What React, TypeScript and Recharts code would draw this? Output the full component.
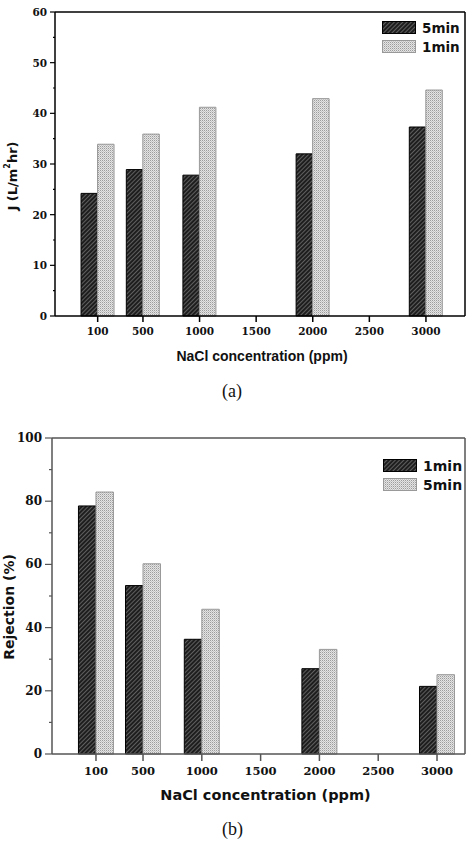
import React from 'react';
import { BarChart, Bar, XAxis, YAxis, Legend, ReferenceLine, Label } from 'recharts';

// NaCl concentrations (ppm) that have bars
const concentrations = [100, 500, 1000, 2000, 3000];
const xTicks = [100, 500, 1000, 1500, 2000, 2500, 3000];

// (a) permeate flux J (L/m2 hr)
const flux5min = [24.2, 28.9, 27.8, 32.0, 37.3];
const flux1min = [33.9, 35.9, 41.2, 42.9, 44.6];
const fluxTicks = [0, 5, 10, 15, 20, 25, 30, 35, 40, 45, 50, 55, 60];

// (b) salt rejection (%)
const rej1min = [78.5, 53.3, 36.3, 27.0, 21.4];
const rej5min = [82.9, 60.2, 45.8, 33.1, 25.1];
const rejTicks = [0, 10, 20, 30, 40, 50, 60, 70, 80, 90, 100];

const fluxData = concentrations.map((c, i) => ({ c, m5: flux5min[i], m1: flux1min[i] }));
const rejData = concentrations.map((c, i) => ({ c, m1: rej1min[i], m5: rej5min[i] }));

const tickFont = '"DejaVu Serif", serif';
const sansBold = '"DejaVu Sans", Verdana, sans-serif';

const Patterns = () => (
  <svg width={0} height={0} style={{ position: 'absolute' }}>
    <defs>
      <pattern id="hatch" patternUnits="userSpaceOnUse" width={3} height={3} patternTransform="rotate(45)">
        <rect width={3} height={3} fill="#1e1e1e" />
        <line x1={0} y1={0} x2={0} y2={3} stroke="#8a8a8a" strokeWidth={1.2} />
      </pattern>
      <pattern id="dots" patternUnits="userSpaceOnUse" width={2} height={2}>
        <rect width={2} height={2} fill="#e4e4e4" />
        <rect width={1} height={1} fill="#9c9c9c" />
        <rect x={1} y={1} width={1} height={1} fill="#c4c4c4" />
      </pattern>
    </defs>
  </svg>
);

const makeYTick = (step: number, majorLen: number, minorLen: number, fontSize: number, color: string) =>
  (props: any) => {
    const { x, y, payload } = props;
    const axisX = x + 8;
    const major = payload.value % step === 0;
    return (
      <g>
        <line x1={axisX - (major ? majorLen : minorLen)} x2={axisX} y1={y} y2={y} stroke={color} strokeWidth={1.2} />
        {major && (
          <text x={axisX - majorLen - 3} y={y} textAnchor="end" dominantBaseline="central"
            fontFamily={tickFont} fontWeight="bold" fontSize={fontSize} fill="#111">
            {payload.value}
          </text>
        )}
      </g>
    );
  };

const makeLegend = (items: { name: string; fill: string; stroke: string }[], fontSize: number, gap: number) =>
  () => (
    <div>
      {items.map((it) => (
        <div key={it.name} style={{ display: 'flex', alignItems: 'center', height: gap }}>
          <svg width={34} height={13} style={{ display: 'block' }}>
            <rect x={0.5} y={0.5} width={33} height={12} fill={it.fill} stroke={it.stroke} />
          </svg>
          <span style={{ marginLeft: 6, fontFamily: sansBold, fontWeight: 'bold', fontSize, color: '#111' }}>{it.name}</span>
        </div>
      ))}
    </div>
  );

export default function App() {
  return (
    <div style={{ position: 'absolute', left: 0, top: 0, width: 466, height: 842, background: '#fff' }}>
      <Patterns />
      <div style={{ position: 'absolute', left: 0, top: 0 }}>
        <BarChart width={466} height={366} data={fluxData} margin={{ top: 12, right: 1, left: 0, bottom: 0 }}
          barGap={0} barSize={16.5}>
          <XAxis dataKey="c" type="number" domain={[-277, 3345]} ticks={xTicks} allowDataOverflow
            height={50} stroke="#000" strokeWidth={1.5} tickSize={6} tickMargin={6}
            tick={{ fill: '#111', fontSize: 10.5, fontFamily: tickFont, fontWeight: 'bold' }}>
            <Label content={(p: any) => (
              <text x={p.viewBox.x + p.viewBox.width / 2 + 2} y={p.viewBox.y + 45} textAnchor="middle"
                fontFamily='"Liberation Sans", Arial, sans-serif' fontWeight="bold" fontSize={14} fill="#111">
                NaCl concentration (ppm)
              </text>
            )} />
          </XAxis>
          <YAxis type="number" domain={[0, 60]} ticks={fluxTicks} width={55} stroke="#000" strokeWidth={1.5}
            tickLine={false} tickSize={5} tickMargin={3} interval={0} tick={makeYTick(10, 5, 2, 10.5, '#000')}>
            <Label content={() => (
              <text transform="translate(12,176) rotate(-90)" textAnchor="middle" dominantBaseline="central"
                fontFamily={sansBold} fontWeight="bold" fontSize={13} fill="#111">
                J (L/m<tspan dy={-5} fontSize={8}>2</tspan><tspan dy={5}>hr)</tspan>
              </text>
            )} />
          </YAxis>
          <ReferenceLine y={60} stroke="#000" strokeWidth={1.5} />
          <ReferenceLine x={3345} stroke="#000" strokeWidth={1.5} />
          <Legend layout="horizontal" verticalAlign="middle" align="center"
            wrapperStyle={{ position: 'absolute', left: 382, top: 18, width: 84 }}
            content={makeLegend([
              { name: '5min', fill: 'url(#hatch)', stroke: '#000' },
              { name: '1min', fill: 'url(#dots)', stroke: '#999' },
            ], 13.5, 19)} />
          <Bar dataKey="m5" name="5min" fill="url(#hatch)" stroke="#000" strokeWidth={1} isAnimationActive={false} />
          <Bar dataKey="m1" name="1min" fill="url(#dots)" stroke="#999" strokeWidth={1} isAnimationActive={false} />
        </BarChart>
      </div>
      <div style={{ position: 'absolute', left: 222, top: 381, fontFamily: '"Liberation Serif", serif', fontSize: 18, color: '#111' }}>(a)</div>

      <div style={{ position: 'absolute', left: 0, top: 420 }}>
        <BarChart width={466} height={384} data={rejData} margin={{ top: 18, right: 1, left: 0, bottom: 0 }}
          barGap={0} barSize={17.5}>
          <XAxis dataKey="c" type="number" domain={[-274, 3238]} ticks={xTicks} allowDataOverflow
            height={50} stroke="#555" strokeWidth={1.5} tickSize={7} tickMargin={6}
            tick={{ fill: '#111', fontSize: 11.5, fontFamily: tickFont, fontWeight: 'bold' }}>
            <Label content={(p: any) => (
              <text x={p.viewBox.x + p.viewBox.width / 2 + 7} y={p.viewBox.y + 46} textAnchor="middle"
                fontFamily={sansBold} fontWeight="bold" fontSize={14.5} fill="#111">
                NaCl concentration (ppm)
              </text>
            )} />
          </XAxis>
          <YAxis type="number" domain={[0, 100]} ticks={rejTicks} width={52} stroke="#555" strokeWidth={1.5}
            tickLine={false} tickSize={5} tickMargin={3} interval={0} tick={makeYTick(20, 7, 3, 12, '#555')}>
            <Label content={() => (
              <text transform="translate(9,187) rotate(-90)" textAnchor="middle" dominantBaseline="central"
                fontFamily={sansBold} fontWeight="bold" fontSize={14} fill="#111">
                Rejection (%)
              </text>
            )} />
          </YAxis>
          <ReferenceLine y={100} stroke="#555" strokeWidth={1.5} />
          <ReferenceLine x={3238} stroke="#555" strokeWidth={1.5} />
          <Legend layout="horizontal" verticalAlign="middle" align="center"
            wrapperStyle={{ position: 'absolute', left: 383, top: 36, width: 83 }}
            content={makeLegend([
              { name: '1min', fill: 'url(#hatch)', stroke: '#000' },
              { name: '5min', fill: 'url(#dots)', stroke: '#999' },
            ], 14, 19)} />
          <Bar dataKey="m1" name="1min" fill="url(#hatch)" stroke="#000" strokeWidth={1} isAnimationActive={false} />
          <Bar dataKey="m5" name="5min" fill="url(#dots)" stroke="#999" strokeWidth={1} isAnimationActive={false} />
        </BarChart>
      </div>
      <div style={{ position: 'absolute', left: 222, top: 819, fontFamily: '"Liberation Serif", serif', fontSize: 18, color: '#111' }}>(b)</div>
    </div>
  );
}
